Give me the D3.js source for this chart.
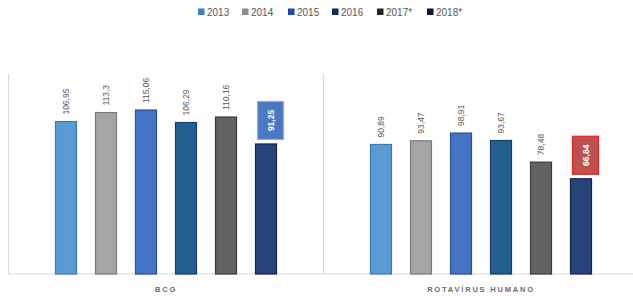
<!DOCTYPE html>
<head>
  <meta charset="UTF-8">
  <style>
    *{ margin: 0px; }
    body{ background-color: white; }
    svg{ font-family: "Liberation Sans", Arial, sans-serif; }
  </style>
  <script src="https://d3js.org/d3.v7.min.js"></script>
</head>
<body>
  <svg id="chart" width="633" height="299"></svg>
  <script>
    // data
    var categories = ["BCG", "ROTAVÍRUS HUMANO"];
    var years = ["2013", "2014", "2015", "2016", "2017*", "2018*"];
    var bcg = [106.95, 113.3, 115.06, 106.29, 110.16, 91.25];
    var rota = [90.89, 93.47, 98.91, 93.67, 78.48, 66.84];
    var series = [bcg, rota];

    var fills = ["#5b9bd5", "#a5a5a5", "#4472c4", "#255e91", "#636363", "#264478"];
    var strokes = ["#3f78b0", "#7a7a7a", "#2c4f9c", "#173f66", "#3a3a3a", "#14264a"];
    var swatches = ["#3f80c2", "#8c8c8c", "#2443a8", "#122a5c", "#262626", "#0f172e"];
    var boxFill = ["#4a78c2", "#c0504d"];
    var boxStroke = ["#8fb0e0", "#e02424"];

    var svg = d3.select("#chart");
    var base = 274, plotTop = 74.5;

    var x0 = d3.scaleBand().domain(categories).range([8.5, 638.5]);
    var x1 = d3.scaleBand().domain(years)
      .range([(x0.bandwidth() - 221) / 2, (x0.bandwidth() + 221) / 2])
      .paddingInner(0.475);
    var y = d3.scaleLinear().domain([0, 140]).range([base, plotTop]);

    var fmt = v => String(v).replace(".", ",");

    // frame lines
    var grid = svg.append("g").attr("stroke", "#d9d9d9").attr("stroke-width", 1.2);
    categories.forEach(function(c){
      grid.append("line")
        .attr("x1", x0(c)).attr("x2", x0(c))
        .attr("y1", plotTop).attr("y2", base);
    });
    grid.append("line").attr("x1", 8.5).attr("x2", 633).attr("y1", base).attr("y2", base);

    // bars
    var groups = svg.selectAll("g.cat")
      .data(categories)
      .enter().append("g")
      .attr("class", "cat")
      .attr("transform", d => "translate(" + x0(d) + ",0)");

    groups.each(function(c, ci){
      var g = d3.select(this);
      var vals = series[ci];
      years.forEach(function(yr, i){
        var v = vals[i];
        var bx = x1(yr), bw = x1.bandwidth();
        g.append("rect")
          .attr("x", bx).attr("y", y(v))
          .attr("width", bw).attr("height", base - y(v))
          .attr("fill", fills[i])
          .attr("stroke", strokes[i])
          .attr("stroke-width", 1.2);

        var cx = bx + bw / 2;
        if(i === years.length - 1){
          var bxW = 26, bxH = 38;
          var bxX = cx + 4.5 - bxW / 2, bxY = y(v) - 4.5 - bxH;
          g.append("rect")
            .attr("x", bxX).attr("y", bxY)
            .attr("width", bxW).attr("height", bxH)
            .attr("fill", boxFill[ci])
            .attr("stroke", boxStroke[ci])
            .attr("stroke-width", 1.2);
          g.append("text")
            .attr("transform", "translate(" + (bxX + bxW / 2 + 3) + "," + (bxY + bxH / 2) + ") rotate(-90)")
            .attr("text-anchor", "middle")
            .attr("font-size", "8.5px")
            .attr("font-weight", "bold")
            .attr("fill", "white")
            .text(fmt(v));
        } else {
          g.append("text")
            .attr("transform", "translate(" + (cx + 3) + "," + (y(v) - 7) + ") rotate(-90)")
            .attr("text-anchor", "start")
            .attr("font-size", "8.5px")
            .attr("fill", "#595959")
            .text(fmt(v));
        }
      });

      g.append("text")
        .attr("x", x0.bandwidth() / 2)
        .attr("y", 292)
        .attr("text-anchor", "middle")
        .attr("font-size", "7.5px")
        .attr("font-weight", "bold")
        .attr("letter-spacing", "1.8px")
        .attr("fill", "#6b6b6b")
        .text(c);
    });

    // legend
    var legendX = [198, 242, 288, 332, 377, 427];
    var legend = svg.append("g");
    years.forEach(function(yr, i){
      var lg = legend.append("g").attr("transform", "translate(" + legendX[i] + ",12)");
      lg.append("rect").attr("x", 0).attr("y", -3.5).attr("width", 6.5).attr("height", 6.5)
        .attr("fill", swatches[i]);
      lg.append("text").attr("x", 9).attr("y", 0).attr("dy", "0.35em")
        .attr("font-size", "10px")
        .attr("fill", "#595959")
        .text(yr);
    });
  </script>
</body>
